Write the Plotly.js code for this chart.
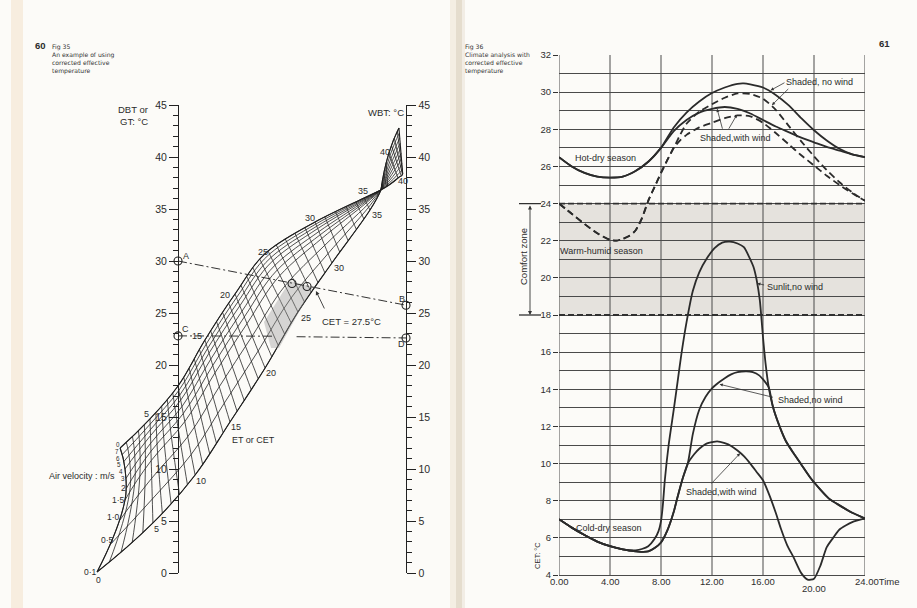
<!DOCTYPE html>
<html><head><meta charset="utf-8">
<script src="https://cdn.plot.ly/plotly-3.0.1.min.js"></script>
<style>html,body{margin:0;padding:0;background:#fcfbf8;}#chart{width:917px;height:608px;}</style>
</head><body><div id="chart"></div>
<script>
// ================= Fig 36 : CET vs time =================
const xTickVals = [0, 4, 8, 12, 16, 20, 24];
const xTickText = ['0.00', '4.00', '8.00', '12.00', '16.00', '20.00', '24.00Time'];

const hotNoWindT = [0,1,2,3,4,5,6,7,8,9,10,11,12,13,14,14.5,15,16,17,18,19,20,21,22,23,24];
const hotNoWindV = [26.5,26.0,25.65,25.45,25.4,25.45,25.75,26.25,27.0,28.1,28.9,29.5,29.95,30.25,30.45,30.47,30.42,30.25,29.85,29.3,28.6,27.95,27.4,26.95,26.65,26.5];
const hotWindT = [0,1,2,3,4,5,6,7,8,9,10,11,12,13,14,15,16,17,18,19,20,21,22,23,24];
const hotWindV = [26.5,26.0,25.65,25.45,25.4,25.45,25.75,26.25,27.0,27.9,28.5,28.9,29.1,29.2,29.1,28.85,28.5,28.15,27.85,27.55,27.3,27.05,26.85,26.65,26.5];

const warmNoWindT = [0,1,2,3,4,4.5,5,5.5,6,6.5,7,7.5,8,8.5,9,9.5,10,11,12,13,14,15,16,17,18,19,20,21,22,23,24];
const warmNoWindV = [24.0,23.45,22.9,22.4,22.05,22.0,22.1,22.25,22.55,23.2,24.15,24.9,25.65,26.35,27.0,27.7,28.3,28.95,29.35,29.7,29.93,29.9,29.65,29.05,28.2,27.35,26.55,25.8,25.15,24.6,24.15];
const warmWindT = [0,1,2,3,4,4.5,5,5.5,6,6.5,7,7.5,8,8.5,9,9.5,10,11,12,13,14,15,16,17,18,19,20,21,22,23,24];
const warmWindV = [24.0,23.45,22.9,22.4,22.05,22.0,22.1,22.25,22.55,23.2,24.15,24.9,25.65,26.35,27.0,27.4,27.7,28.1,28.35,28.6,28.75,28.7,28.35,27.8,27.2,26.6,26.05,25.5,25.0,24.55,24.15];

const coldSunT = [0,1,2,3,4,5,5.5,6,6.5,7,7.5,7.8,8,8.15,8.3,8.6,9,9.3,9.6,10,10.5,11,11.6,12.2,12.8,13.4,14,14.5,15,15.25,15.5,15.75,16,16.2,16.45,16.8,17.3,17.8,18.4,19,19.7,20.5,21.2,22,23,24];
const coldSunV = [7.0,6.55,6.15,5.8,5.55,5.38,5.33,5.33,5.4,5.55,5.95,6.35,6.9,7.8,9.1,11.0,12.9,14.4,15.9,17.6,19.3,20.3,21.05,21.6,21.9,21.95,21.85,21.65,21.0,20.6,19.9,18.8,16.8,15.4,14.1,13.0,12.0,11.2,10.55,9.95,9.25,8.6,8.1,7.75,7.35,7.05];
const coldShadeT = [0,1,2,3,4,5,5.5,6,6.5,7,7.5,8,8.5,9,9.3,9.7,10.1,10.5,11,11.5,12,12.5,13,13.5,14,14.7,15.2,15.7,16.1,16.45,16.8,17.3,17.8,18.4,19,19.7,20.5,21.2,22,23,24];
const coldShadeV = [7.0,6.55,6.15,5.8,5.55,5.38,5.32,5.28,5.25,5.27,5.45,5.75,6.4,7.4,8.2,9.2,10.0,11.6,12.9,13.6,14.05,14.35,14.6,14.8,14.92,14.97,14.92,14.75,14.45,14.1,13.0,12.0,11.2,10.55,9.95,9.25,8.6,8.1,7.75,7.35,7.05];
const coldWindT = [0,1,2,3,4,5,5.5,6,6.5,7,7.5,8,8.5,9,9.3,9.7,10.1,10.6,11,11.5,12,12.4,13,13.5,14,14.5,15,15.5,16,16.5,17,17.4,17.9,18.4,19,19.5,20,20.5,21,21.5,22,23,24];
const coldWindV = [7.0,6.55,6.15,5.8,5.55,5.38,5.32,5.28,5.25,5.27,5.45,5.75,6.4,7.4,8.2,9.2,10.0,10.5,10.8,11.05,11.15,11.2,11.1,10.95,10.7,10.4,10.0,9.55,9.1,8.3,7.35,6.5,5.6,4.95,4.1,3.75,3.8,4.5,5.5,6.0,6.45,6.85,7.05];

const comfortLow = 18, comfortHigh = 24;

// ================= Fig 35 : nomogram =================
// a = ET level, b = air-velocity line index (0 -> 0·1 m/s ... 9 -> 7 m/s)
// positions: X (0 = DBT scale, 1 = WBT scale), Y in deg C of the DBT scale
const velLabels = ['0·1','0·5','1·0','1·5','2','3','4','5','6','7'];
const etLevels = [0,5,10,15,20,25,30,35,36.5];
const velRows = [0,3,6,9];
const meshX = [
  [-0.355,-0.110,0.075,0.228,0.382,0.526,0.675,0.842,0.890],
  [-0.2325,-0.1175,0.0298,0.1623,0.3026,0.4474,0.6307,0.8263,0.890],
  [-0.2325,-0.1206,0.0118,0.1360,0.2711,0.4158,0.6127,0.8202,0.890],
  [-0.254,-0.123,0.000,0.118,0.250,0.395,0.601,0.816,0.890]];
const meshY = [
  [0.10,4.81,9.42,14.52,19.71,25.10,29.81,34.90,36.83],
  [7.02,10.81,14.56,19.25,23.98,28.62,32.17,35.60,36.83],
  [10.0,13.21,16.62,21.14,25.69,30.02,33.12,35.88,36.83],
  [12.02,14.81,17.98,22.40,26.83,30.96,33.75,36.06,36.83]];
const fanLevels = [36.5,40,43.5];
const fanRows = [0,9];
const fanX = [[0.890,0.925,0.969],[0.890,0.965,1.009]];
const fanY = [[36.83,40.38,42.79],[36.83,37.98,39.23]];

const lineAB_X = [0, 1], lineAB_Y = [30, 25.75];
const lineCD1_X = [0, 0.42], lineCD1_Y = [22.8, 22.77];
const lineCD2_X = [0.52, 1], lineCD2_Y = [22.72, 22.6];
const ptX = [0, 1, 0, 1, 0.5, 0.566];
const ptY = [30, 25.75, 22.8, 22.6, 27.84, 27.55];
const shadeX = [0.408,0.377,0.491,0.592,0.443,0.408];
const shadeY = [21.63,24.13,28.08,27.5,21.63,21.63];

// ================= build =================
const W = 917, H = 608;
const PX = v => v / W, PY = v => 1 - v / H;
const FONT = 'Liberation Sans, Arial, Helvetica, sans-serif';
const INK = '#2b2b2b';

function curve(t, v, dash) {
  return {x: t, y: v, type: 'scatter', mode: 'lines', xaxis: 'x', yaxis: 'y',
    line: {color: INK, width: 1.8, shape: 'spline', smoothing: 0.6, dash: dash || 'solid'},
    hoverinfo: 'skip', showlegend: false};
}
function carpAxis(smooth) {
  return {tickmode: 'linear', tick0: 0, dtick: 1, showticklabels: 'none', showgrid: true,
    gridcolor: '#242424', gridwidth: 0.8, minorgridcount: 0, startline: true, endline: true,
    startlinecolor: '#1e1e1e', endlinecolor: '#1e1e1e', startlinewidth: 1.1, endlinewidth: 1.1, smoothing: smooth};
}

const traces = [
  {x: shadeX, y: shadeY, type: 'scatter', mode: 'lines', fill: 'toself', fillcolor: 'rgba(150,150,150,0.38)',
    line: {width: 0}, xaxis: 'x2', yaxis: 'y2', hoverinfo: 'skip', showlegend: false},
  {type: 'carpet', carpet: 'mesh', xaxis: 'x2', yaxis: 'y2', a: etLevels, b: velRows, x: meshX, y: meshY,
    aaxis: carpAxis(1), baxis: carpAxis(1)},
  {type: 'carpet', carpet: 'fan', xaxis: 'x2', yaxis: 'y2', a: fanLevels, b: fanRows, x: fanX, y: fanY,
    aaxis: carpAxis(1), baxis: carpAxis(0)},
  {x: lineAB_X, y: lineAB_Y, type: 'scatter', mode: 'lines', xaxis: 'x2', yaxis: 'y2',
    line: {color: '#333', width: 1, dash: '9px,3px,2px,3px'}, hoverinfo: 'skip', showlegend: false},
  {x: lineCD1_X, y: lineCD1_Y, type: 'scatter', mode: 'lines', xaxis: 'x2', yaxis: 'y2',
    line: {color: '#333', width: 1, dash: '9px,3px,2px,3px'}, hoverinfo: 'skip', showlegend: false},
  {x: lineCD2_X, y: lineCD2_Y, type: 'scatter', mode: 'lines', xaxis: 'x2', yaxis: 'y2',
    line: {color: '#333', width: 1, dash: '9px,3px,2px,3px'}, hoverinfo: 'skip', showlegend: false},
  {x: ptX, y: ptY, type: 'scatter', mode: 'markers', xaxis: 'x2', yaxis: 'y2',
    marker: {symbol: 'circle-open', size: 8, color: '#222', line: {width: 1.1, color: '#222'}}, hoverinfo: 'skip', showlegend: false},
  {x: [0], y: [0], type: 'scatter', mode: 'markers', xaxis: 'x2', yaxis: 'y3', marker: {opacity: 0}, hoverinfo: 'skip', showlegend: false},
  curve(hotNoWindT, hotNoWindV), curve(hotWindT, hotWindV),
  curve(warmNoWindT, warmNoWindV, '7px,4px'), curve(warmWindT, warmWindV, '7px,4px'),
  curve(coldSunT, coldSunV), curve(coldShadeT, coldShadeV), curve(coldWindT, coldWindV)
];

const shapes = [
  {type: 'rect', xref: 'paper', yref: 'paper', x0: PX(11), x1: PX(23), y0: 0, y1: 1, fillcolor: '#f7eddf', line: {width: 0}, layer: 'below'},
  {type: 'rect', xref: 'paper', yref: 'paper', x0: PX(450), x1: PX(456), y0: 0, y1: 1, fillcolor: '#f4eee3', line: {width: 0}, layer: 'below'},
  {type: 'rect', xref: 'paper', yref: 'paper', x0: PX(456), x1: PX(462), y0: 0, y1: 1, fillcolor: '#e5ddce', line: {width: 0}, layer: 'below'},
  {type: 'rect', xref: 'paper', yref: 'paper', x0: PX(462), x1: PX(465), y0: 0, y1: 1, fillcolor: '#f2ede5', line: {width: 0}, layer: 'below'},
  {type: 'rect', xref: 'x', yref: 'y', x0: 0, x1: 24, y0: comfortLow, y1: comfortHigh, fillcolor: '#e5e2dd', line: {width: 0}, layer: 'below'}
];
xTickVals.forEach(t => shapes.push({type: 'line', xref: 'x', yref: 'y', x0: t, x1: t, y0: 4, y1: 32,
  line: {color: '#4a4a4a', width: 1}, layer: 'below'}));
[comfortLow, comfortHigh].forEach(v => {
  shapes.push({type: 'line', xref: 'x', yref: 'y', x0: 0, x1: 24, y0: v, y1: v, line: {color: '#303030', width: 1.8, dash: '6px,3px'}, layer: 'above'});
  shapes.push({type: 'line', xref: 'paper', yref: 'y', x0: PX(519), x1: PX(541), y0: v, y1: v, line: {color: '#303030', width: 1.3}});
});

const annotations = [];
function txt(s, x, y, size, opts) {
  annotations.push(Object.assign({text: s, xref: 'paper', yref: 'paper', x: PX(x), y: PY(y), showarrow: false,
    font: {family: FONT, size: size, color: '#2b2b2b'}, xanchor: 'center', yanchor: 'middle'}, opts || {}));
}
const SMALL = {family: 'DejaVu Sans, Verdana, sans-serif', size: 6.1, color: '#333'};
// page headers
txt('<b>60</b>', 40, 45, 9.5);
txt('Fig 35<br>An example of using<br>corrected effective<br>temperature', 50, 41, 6.1, {xanchor: 'left', yanchor: 'top', align: 'left', font: SMALL});
txt('<b>61</b>', 884, 43, 9.5);
txt('Fig 36<br>Climate analysis with<br>corrected effective<br>temperature', 463, 41, 6.1, {xanchor: 'left', yanchor: 'top', align: 'left', font: SMALL});
// nomogram texts
txt('DBT or', 150, 109, 9.5, {xanchor: 'right'});
txt('GT: °C', 150, 121, 9.5, {xanchor: 'right'});
txt('WBT: °C', 386, 112, 9.5);
txt('Air velocity : m/s', 82, 476, 9);
txt('ET or CET', 253, 440, 9);
txt('CET = 27.5°C', 351, 321, 9.5);
txt('A', 186, 256, 9); txt('B', 402, 299, 9); txt('C', 185, 329, 9); txt('D', 401, 344, 9);
const velPos = [[90,572],[107,540],[113,517],[118,500],[123,488],[122.5,478.5],[121,471.7],[119.5,464.9],[118,458.1],[116.5,451.3]];
velLabels.forEach((s, i) => txt(s, velPos[i][0], velPos[i][1], i > 4 ? 6.3 : 8.5));
txt('0', 118, 444.5, 6.3); txt('0', 98, 580, 8.5);
[['5',156,529],['10',201,481],['15',236,427],['20',271,373],['25',306,318],['30',339,268],['35',377,215],
 ['5',146,414],['15',197,336],['20',225,295],['25',263,252],['30',310,218],['35',363,191],
 ['40',385,152],['40',403,181]].forEach(d => txt(d[0], d[1], d[2], 9));
// CET arrow
annotations.push({xref: 'x2', yref: 'y2', axref: 'x2', ayref: 'y2', x: 0.605, y: 27.12, ax: 0.645, ay: 25.29,
  text: '', showarrow: true, arrowhead: 2, arrowsize: 0.9, arrowwidth: 0.9, arrowcolor: '#333'});

// Fig 36 texts
xTickVals.forEach((t, i) => {
  const last = i === xTickVals.length - 1;
  annotations.push({xref: 'x', yref: 'paper', x: t, y: PY(t === 20 ? 588 : 581), text: xTickText[i], showarrow: false,
    font: {family: FONT, size: 9.5, color: '#2e2e2e'}, xanchor: last ? 'left' : 'center', yanchor: 'middle', xshift: last ? -12 : 0});
});
txt('CET: °C', 537, 556, 7.5, {textangle: -90});
txt('Comfort zone', 523, 257, 9.5, {textangle: -90});
annotations.push({xref: 'paper', yref: 'y', x: PX(530), y: comfortLow, ax: 0, ay: -111, text: '', showarrow: true,
  arrowhead: 2, arrowside: 'end+start', arrowsize: 0.9, arrowwidth: 0.9, arrowcolor: '#333'});
function lab(s, t, v) {
  annotations.push({xref: 'x', yref: 'y', x: t, y: v, text: s, showarrow: false,
    font: {family: FONT, size: 9, color: '#2b2b2b'}});
}
lab('Hot-dry season', 3.61, 26.45);
lab('Shaded, no wind', 20.47, 30.55);
lab('Shaded,with wind', 13.88, 27.53);
lab('Warm-humid season', 3.37, 21.45);
lab('Sunlit,no wind', 18.51, 19.51);
lab('Shaded,no wind', 19.76, 13.42);
lab('Shaded,with wind', 12.71, 8.47);
lab('Cold-dry season', 3.92, 6.53);
function arrow(x, y, ax, ay) {
  annotations.push({xref: 'x', yref: 'y', axref: 'x', ayref: 'y', x: x, y: y, ax: ax, ay: ay, text: '',
    showarrow: true, arrowhead: 2, arrowsize: 0.8, arrowwidth: 0.8, arrowcolor: '#333'});
}
arrow(16.6, 30.1, 17.8, 30.55);
arrow(16.7, 29.3, 18.1, 30.25);
arrow(12.4, 29.1, 12.85, 27.95);
arrow(13.95, 28.78, 13.25, 27.95);
arrow(15.55, 19.7, 16.2, 19.6);
arrow(12.6, 14.27, 16.9, 13.55);
arrow(14.2, 10.55, 11.85, 8.85);

const tickFontL = {family: FONT, size: 10.5, color: '#2b2b2b'};
const layout = {
  width: W, height: H, margin: {l: 0, r: 0, t: 0, b: 0},
  paper_bgcolor: '#fcfbf8', plot_bgcolor: 'rgba(0,0,0,0)', showlegend: false,
  xaxis: {domain: [559 / W, 865 / W], range: [0, 24], showgrid: false, zeroline: false, showticklabels: false,
    ticks: '', showline: false, fixedrange: true},
  yaxis: {domain: [1 - 582.43 / H, 1 - 55 / H], range: [3.6, 32], tickmode: 'linear', tick0: 4, dtick: 2,
    ticks: 'outside', ticklen: 5, tickcolor: '#333', tickfont: {family: FONT, size: 9.5, color: '#2e2e2e'},
    showgrid: true, gridcolor: '#4a4a4a', gridwidth: 1, zeroline: false, showline: false, fixedrange: true,
    minor: {tick0: 4, dtick: 1, showgrid: true, gridcolor: '#4a4a4a', gridwidth: 1, ticks: ''}},
  xaxis2: {domain: [40 / W, 440 / W], range: [-0.6053, 1.1491], visible: false, anchor: 'y2', fixedrange: true},
  yaxis2: {domain: [1 - 573 / H, 1 - 105 / H], range: [0, 45], anchor: 'free', position: 178 / W, side: 'left',
    tickmode: 'linear', tick0: 0, dtick: 5, ticks: 'outside', ticklen: 9, tickcolor: '#222', tickwidth: 1,
    showline: true, linecolor: '#222', linewidth: 1.3, showgrid: false, zeroline: false, tickfont: tickFontL,
    minor: {dtick: 1, ticks: 'outside', ticklen: 5, tickcolor: '#222', tickwidth: 1, showgrid: false}, fixedrange: true},
  yaxis3: {overlaying: 'y2', range: [0, 45], anchor: 'free', position: 406 / W, side: 'right',
    tickmode: 'linear', tick0: 0, dtick: 5, ticks: 'outside', ticklen: 9, tickcolor: '#222', tickwidth: 1,
    showline: true, linecolor: '#222', linewidth: 1.3, showgrid: false, zeroline: false, tickfont: tickFontL,
    minor: {dtick: 1, ticks: 'outside', ticklen: 5, tickcolor: '#222', tickwidth: 1, showgrid: false}, fixedrange: true},
  shapes: shapes, annotations: annotations
};
Plotly.newPlot('chart', traces, layout, {staticPlot: true, displayModeBar: false});
</script></body></html>
